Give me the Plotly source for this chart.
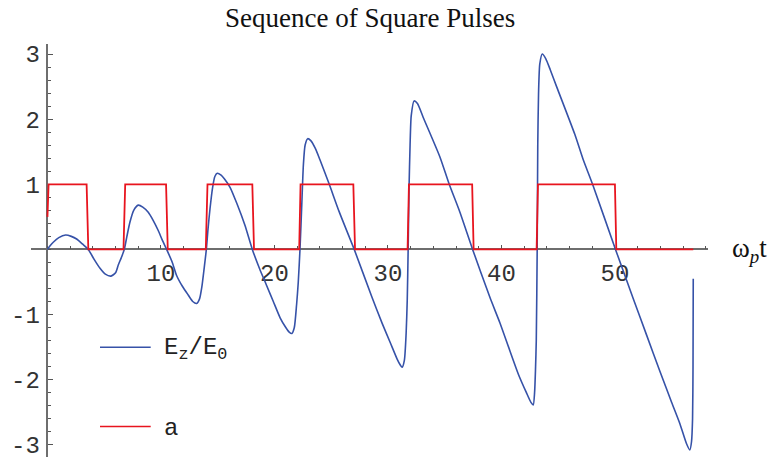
import plotly.graph_objects as go

# Wakefield E_z/E_0 driven by a train of square pulses, versus omega_p t
t_field = [0.0, 0.25, 0.51, 1.0, 1.6, 2.1, 2.57, 3.1, 3.6,
           4.1, 4.63, 5.1, 5.6, 6.0, 6.24, 6.5, 6.77,
           7.0, 7.27, 7.6, 8.0, 8.4, 8.88, 9.3, 9.76, 10.1, 10.5,
           11.0, 11.38, 11.9, 12.4, 12.8, 13.15, 13.4, 13.6, 13.8, 14.0,
           14.15, 14.32, 14.55, 14.75, 14.96, 15.3, 15.6, 16.1, 16.7, 17.4, 18.05,
           18.7, 19.3, 19.9, 20.5, 21.0, 21.3, 21.54, 21.75, 21.95, 22.1, 22.25,
           22.4, 22.55, 22.7, 22.93, 23.2, 23.6, 24.0, 24.83, 25.7, 27.03,
           28.56, 29.5, 30.2, 30.8, 31.1, 31.25, 31.45, 31.6, 31.7, 31.78,
           31.86, 31.95, 32.05, 32.3, 32.6, 33.1, 34.58, 35.4, 36.28, 37.46,
           38.99, 39.87, 40.75, 41.5, 42.2, 42.6, 42.8, 42.92, 43.0, 43.07, 43.15,
           43.2, 43.27, 43.38, 43.6, 43.9, 44.3, 44.86, 46.48, 47.2, 48.03, 50.05,
           51.6, 52.8, 53.96, 55.0, 55.73, 56.3, 56.6, 56.75, 56.84, 56.88, 56.9]
ez_field = [0.0, 0.06, 0.11, 0.18, 0.22, 0.2, 0.16, 0.08, 0.0,
            -0.15, -0.29, -0.38, -0.41, -0.36, -0.24, -0.13, 0.0,
            0.2, 0.42, 0.6, 0.68, 0.65, 0.57, 0.45, 0.29, 0.15, 0.0,
            -0.2, -0.4, -0.57, -0.7, -0.8, -0.83, -0.76, -0.58, -0.3, 0.0,
            0.32, 0.62, 0.95, 1.12, 1.17, 1.14, 1.08, 0.95, 0.7, 0.37, 0.0,
            -0.3, -0.55, -0.8, -1.05, -1.2, -1.27, -1.29, -1.2, -0.85, -0.5, 0.0,
            0.65, 1.3, 1.6, 1.7, 1.67, 1.55, 1.38, 1.0, 0.58, 0.0,
            -0.72, -1.14, -1.43, -1.68, -1.78, -1.81, -1.7, -1.3, -0.78, 0.0,
            0.95, 1.6, 2.05, 2.28, 2.24, 2.03, 1.42, 1.0, 0.6, 0.0,
            -0.74, -1.13, -1.56, -1.92, -2.2, -2.35, -2.39, -2.2, -1.85, -1.4, 0.0,
            1.6, 2.4, 2.85, 3.0, 2.93, 2.76, 2.5, 1.76, 1.38, 1.0, 0.0,
            -0.75, -1.32, -1.87, -2.35, -2.68, -2.98, -3.08, -2.95, -2.6, -1.8, -0.45]

# Normalised pulse amplitude a
t_pulse = [0.0, 0.1, 3.45, 3.6, 6.7, 6.85, 10.45, 10.6, 13.95, 14.1, 18.05, 18.2,
           22.18, 22.3, 26.95, 27.1, 31.73, 31.85, 37.42, 37.55, 43.1, 43.22,
           50.0, 50.12, 56.9]
a_pulse = [0.5, 1, 1, 0, 0, 1, 1, 0, 0, 1, 1, 0,
           0, 1, 1, 0, 0, 1, 1, 0, 0, 1,
           1, 0, 0]

x_ticks = [10, 20, 30, 40, 50]
y_ticks = [-3, -2, -1, 1, 2, 3]
y_tick_labels = ["-3", "-2", "-1", "1", "2", "3"]
series_names = ["E<sub>z</sub>/E<sub>0</sub>", "a"]
series_colors = ["#3652a8", "#e8141e"]

W, H = 775, 460
x_range = [-1.45, 58.2]
y_range = [-3.188, 3.16]
x_dom = [31 / W, 708 / W]
y_dom = [0.0, (H - 43) / H]

mono = "Liberation Mono, Courier New, monospace"
serif = "Liberation Serif, Times New Roman, serif"

fig = go.Figure()
fig.add_trace(go.Scatter(x=t_field, y=ez_field, mode="lines", name=series_names[0],
                         line=dict(color=series_colors[0], width=1.6, shape="spline", smoothing=0.6),
                         showlegend=False))
fig.add_trace(go.Scatter(x=t_pulse, y=a_pulse, mode="lines", name=series_names[1],
                         line=dict(color=series_colors[1], width=1.8),
                         showlegend=False))

# position of the axes crossing point (0, 0) in paper fractions
x0_frac = x_dom[0] + (0 - x_range[0]) / (x_range[1] - x_range[0]) * (x_dom[1] - x_dom[0])
y0_frac = y_dom[0] + (0 - y_range[0]) / (y_range[1] - y_range[0]) * (y_dom[1] - y_dom[0])

fig.update_layout(
    width=W, height=H,
    margin=dict(l=0, r=0, t=0, b=0),
    paper_bgcolor="white", plot_bgcolor="white",
    xaxis=dict(range=x_range, domain=x_dom, anchor="free", position=y0_frac,
               showgrid=False, zeroline=False, showline=True, linecolor="#6e6e6e", linewidth=1.5,
               tickmode="array", tickvals=x_ticks, ticks="inside", ticklen=4, tickwidth=1.2,
               tickcolor="#555", layer="below traces", ticklabeloverflow="allow",
               tickfont=dict(family=mono, size=24, color="#333"), ticklabelstandoff=2,
               minor=dict(ticks="inside", ticklen=3, tickwidth=1, tickcolor="#555", dtick=2, tick0=0,
                          showgrid=False)),
    yaxis=dict(range=y_range, domain=y_dom, anchor="free", position=x0_frac,
               showgrid=False, zeroline=False, showline=True, linecolor="#6e6e6e", linewidth=1.5,
               tickmode="array", tickvals=y_ticks, ticktext=y_tick_labels,
               ticks="inside", ticklen=5, tickwidth=1.2,
               tickcolor="#555", layer="below traces", ticklabeloverflow="allow",
               tickfont=dict(family=mono, size=24, color="#333"), ticklabelstandoff=2,
               minor=dict(ticks="inside", ticklen=2.5, tickwidth=1, tickcolor="#555", dtick=0.2, tick0=0,
                          showgrid=False)),
)

fig.add_annotation(text="Sequence of Square Pulses", x=369.5 / W, y=1 - 17 / H, xref="paper", yref="paper",
                   showarrow=False, font=dict(family=serif, size=27, color="#111"),
                   xanchor="center", yanchor="middle")
fig.add_annotation(text="ω<sub><i>p</i></sub>t", x=730 / W, y=1 - 251 / H, xref="paper", yref="paper",
                   showarrow=False, font=dict(family=serif, size=27, color="#111"),
                   xanchor="left", yanchor="middle")

# legend drawn inside the plot area
legend_rows = [349.3, 429.3]
for name, color, row in zip(series_names, series_colors, legend_rows):
    fig.add_shape(type="line", xref="paper", yref="paper",
                  x0=100 / W, x1=150.7 / W, y0=1 - row / H, y1=1 - row / H,
                  line=dict(color=color, width=1.6))
    fig.add_annotation(text=name, x=162 / W, y=1 - (row + 2) / H, xref="paper", yref="paper",
                       showarrow=False, font=dict(family=mono, size=24, color="#222"),
                       xanchor="left", yanchor="middle")

fig.write_html("out.html")
